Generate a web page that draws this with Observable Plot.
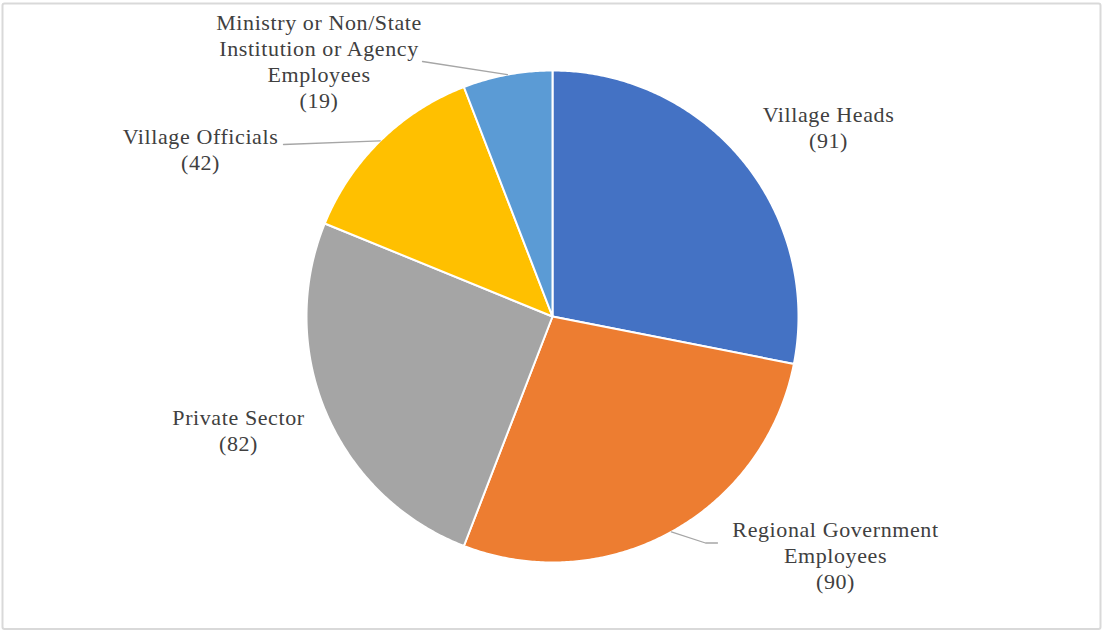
<!DOCTYPE html>
<html>
<head>
<meta charset="utf-8">
<script src="https://cdn.jsdelivr.net/npm/d3@7"></script>
<script src="https://cdn.jsdelivr.net/npm/@observablehq/plot@0.6"></script>
<style>
  html, body { margin: 0; padding: 0; background: #fff; }
  #chart svg { display: block; }
  #chart svg text { letter-spacing: 0.6px; }
</style>
</head>
<body>
<div id="chart"></div>
<script>
// ---- data ----
const categories = [
  "Village Heads",
  "Regional Government Employees",
  "Private Sector",
  "Village Officials",
  "Ministry or Non/State Institution or Agency Employees"
];
const values = [91, 90, 82, 42, 19];
const labelTexts = [
  "Village Heads",
  "Regional Government\nEmployees",
  "Private Sector",
  "Village Officials",
  "Ministry or Non/State\nInstitution or Agency\nEmployees"
];
const colors = ["#4472C4", "#ED7D31", "#A5A5A5", "#FFC000", "#5B9BD5"];

// ---- layout (pixel-like plot coordinates) ----
const W = 1102, H = 630;
const pieGeom = {cx: 552, cy: 316, r: 246};
const labelPos = [[828, 126], [835, 554], [238, 429], [200, 148.5], [318.5, 60]];
const leaderTails = [null, [[705, 542.5], [717, 542.5]], null, [[283, 144]], [[422, 61]]];

const arcs = d3.pie().sort(null).value(d => d)(values);
const pt = (a, rr) => [pieGeom.cx + rr * Math.sin(a), pieGeom.cy - rr * Math.cos(a)];

const slicePts = [];
arcs.forEach((a, i) => {
  const key = categories[i];
  slicePts.push({key, x: pieGeom.cx, y: pieGeom.cy});
  const n = Math.max(2, Math.ceil((a.endAngle - a.startAngle) / (Math.PI / 360)));
  for (let k = 0; k <= n; k++) {
    const ang = a.startAngle + (a.endAngle - a.startAngle) * k / n;
    const [x, y] = pt(ang, pieGeom.r);
    slicePts.push({key, x, y});
  }
  slicePts.push({key, x: pieGeom.cx, y: pieGeom.cy});
});

const leaderPts = [];
arcs.forEach((a, i) => {
  if (!leaderTails[i]) return;
  const mid = (a.startAngle + a.endAngle) / 2;
  const [x0, y0] = pt(mid, pieGeom.r);
  leaderPts.push({key: categories[i], x: x0, y: y0});
  leaderTails[i].forEach(([x, y]) => leaderPts.push({key: categories[i], x, y}));
});

const labels = categories.map((c, i) => ({
  key: c,
  text: labelTexts[i] + "\n(" + values[i] + ")",
  x: labelPos[i][0],
  y: labelPos[i][1]
}));

const chart = Plot.plot({
  width: W,
  height: H,
  margin: 0,
  x: {domain: [0, W], range: [0, W], axis: null},
  y: {domain: [0, H], range: [0, H], axis: null},
  color: {domain: categories, range: colors},
  style: {background: "#fff"},
  marks: [
    Plot.frame({stroke: "#d9d9d9", strokeWidth: 2, insetLeft: 2, insetRight: 2, insetTop: 3, insetBottom: 1.5, rx: 2}),
    Plot.line(slicePts, {x: "x", y: "y", z: "key", fill: "key", stroke: "#fff", strokeWidth: 2, strokeLinejoin: "round", curve: "linear"}),
    Plot.line(leaderPts, {x: "x", y: "y", z: "key", stroke: "#a6a6a6", strokeWidth: 1.3, curve: "linear"}),
    Plot.text(labels, {x: "x", y: "y", text: "text", fill: "#404040", fontFamily: "Liberation Serif", fontSize: 22, lineHeight: 1.18, textAnchor: "middle"})
  ]
});
document.getElementById("chart").appendChild(chart);
</script>
</body>
</html>
